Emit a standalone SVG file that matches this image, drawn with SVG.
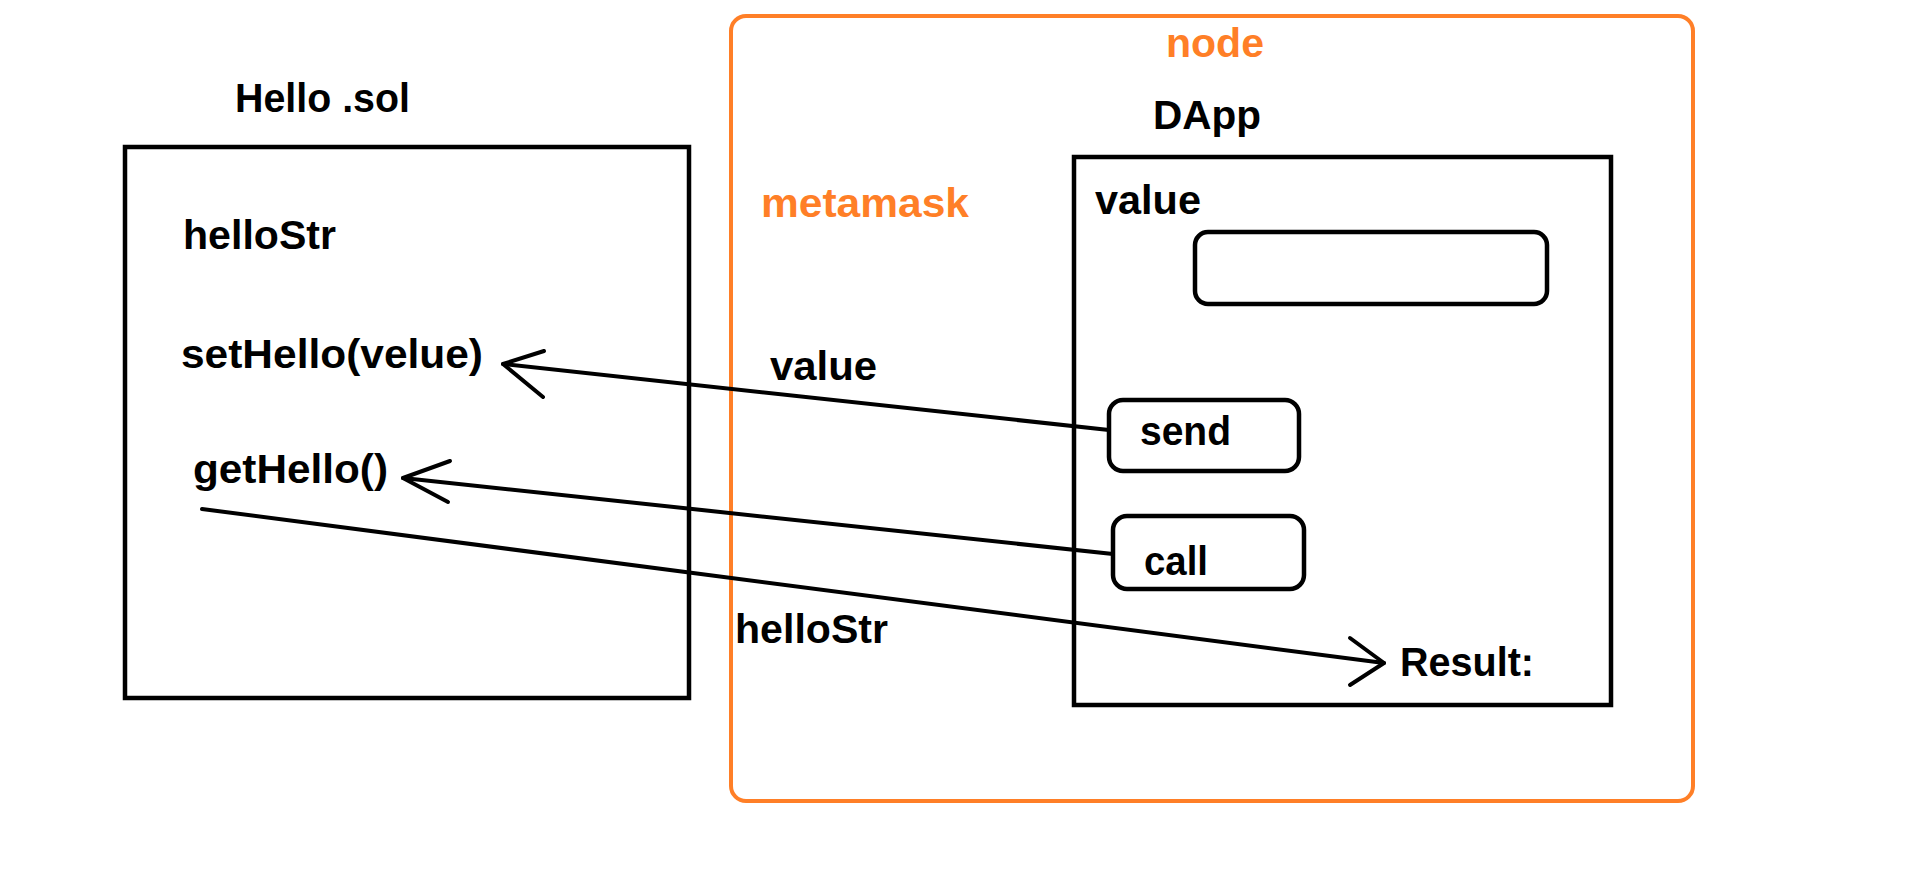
<svg xmlns="http://www.w3.org/2000/svg" width="1909" height="883" viewBox="0 0 1909 883">
<style>
.t{font-family:"Liberation Sans",Arial,sans-serif;font-weight:bold;font-size:41px;fill:#000}
.o{fill:#FF7F27}
.box{fill:none;stroke:#000;stroke-width:4.5}
.rbox{fill:none;stroke:#000;stroke-width:4.5}
.orange{fill:none;stroke:#FF7F27;stroke-width:4}
.ln{fill:none;stroke:#000;stroke-width:4;stroke-linecap:round;stroke-linejoin:round}
</style>
<rect width="1909" height="883" fill="#fff"/>
<g id="node-container">
<rect class="orange" x="731" y="16" width="962" height="785" rx="15"/>
<text class="t o" x="1166" y="57" textLength="98" lengthAdjust="spacingAndGlyphs">node</text>
<text class="t o" x="761" y="217" textLength="208" lengthAdjust="spacingAndGlyphs">metamask</text>
</g>
<g id="hello-sol">
<text class="t" x="235" y="112" textLength="175" lengthAdjust="spacingAndGlyphs">Hello .sol</text>
<rect class="box" x="125" y="147" width="564" height="551"/>
<text class="t" x="183" y="249" textLength="153" lengthAdjust="spacingAndGlyphs">helloStr</text>
<text class="t" x="181" y="368" textLength="302" lengthAdjust="spacingAndGlyphs">setHello(velue)</text>
<text class="t" x="193" y="483" textLength="195" lengthAdjust="spacingAndGlyphs">getHello()</text>
</g>
<g id="dapp">
<text class="t" x="1153" y="129" textLength="108" lengthAdjust="spacingAndGlyphs">DApp</text>
<rect class="box" x="1074" y="157" width="537" height="548"/>
<text class="t" x="1095" y="214" textLength="106" lengthAdjust="spacingAndGlyphs">value</text>
</g>
<g id="value-input">
<rect class="rbox" x="1195" y="232" width="352" height="72" rx="13"/>
</g>
<g id="send">
<rect class="rbox" x="1109" y="400" width="190" height="71" rx="14"/>
<text class="t" x="1140" y="445" textLength="91" lengthAdjust="spacingAndGlyphs">send</text>
</g>
<g id="call">
<rect class="rbox" x="1113" y="516" width="191" height="73" rx="14"/>
<text class="t" x="1144" y="575" textLength="64" lengthAdjust="spacingAndGlyphs">call</text>
</g>
<g id="result">
<text class="t" x="1400" y="676" textLength="134" lengthAdjust="spacingAndGlyphs">Result:</text>
</g>
<g id="connectors">
<path class="ln" d="M1109 430 L503 364"/>
<path class="ln" d="M544 351 L503 364 L543 397"/>
<text class="t" x="770" y="380" textLength="107" lengthAdjust="spacingAndGlyphs">value</text>
<path class="ln" d="M1113 554 L403 478"/>
<path class="ln" d="M450 461 L403 478 L448 502"/>
<path class="ln" d="M202 509 L1384 663"/>
<path class="ln" d="M1350 638 L1384 663 L1350 685"/>
<text class="t" x="735" y="643" textLength="153" lengthAdjust="spacingAndGlyphs">helloStr</text>
</g>
</svg>
